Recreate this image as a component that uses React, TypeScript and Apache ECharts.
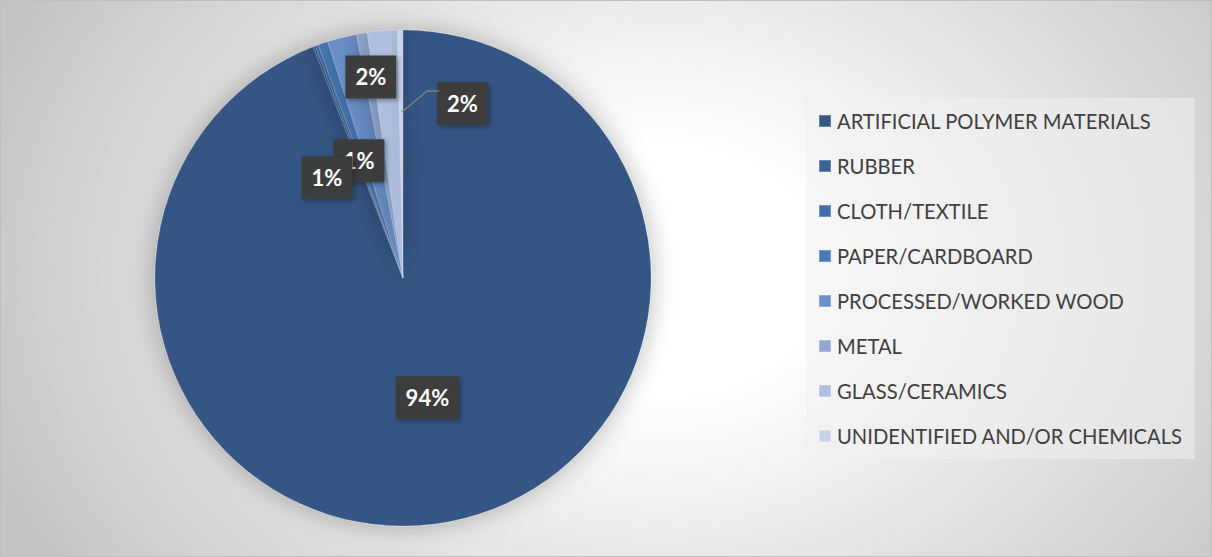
import React, { useEffect, useRef } from "react";
import * as echarts from "echarts";

const categories = [
  "ARTIFICIAL POLYMER MATERIALS",
  "RUBBER",
  "CLOTH/TEXTILE",
  "PAPER/CARDBOARD",
  "PROCESSED/WORKED WOOD",
  "METAL",
  "GLASS/CERAMICS",
  "UNIDENTIFIED AND/OR CHEMICALS",
];
const values = [94.1, 0.15, 0.2, 0.65, 1.9, 0.7, 1.95, 0.35];
const colors = ["#345785", "#3a6296", "#416ea8", "#4a7bba", "#6a8fc7", "#93a8d2", "#adbedf", "#c8d2e8"];
const showLabel = [true, false, false, true, true, true, true, false];
// label nudges (dx, dy) from the default inside position, as Excel's best-fit placed them
const labelShift: [number, number][] = [
  [1, -5], [0, 0], [0, 0], [-3, 3], [-1, -78], [-55, 25], [70, -48], [0, 0],
];

export default function App() {
  const ref = useRef<HTMLDivElement>(null);
  useEffect(() => {
    const chart = echarts.init(ref.current!, null, { renderer: "svg" });
    chart.setOption({
      animation: false,
      backgroundColor: "transparent",
      legend: {
        orient: "vertical",
        left: 805,
        top: 97,
        padding: [13, 12, 13, 12],
        backgroundColor: "rgba(240,240,240,0.55)",
        icon: "rect",
        itemWidth: 12,
        itemHeight: 12,
        itemGap: 25,
        selectedMode: false,
        textStyle: { fontFamily: "Lato", fontSize: 20.2, color: "#404040", padding: [0, 0, 0, 1] },
        data: categories,
      },
      graphic: [
        {
          type: "polyline",
          shape: { points: [[401, 111], [426, 90], [438, 90]] },
          style: { stroke: "#7f7f7f", lineWidth: 1.5, fill: null },
          z: 10,
        },
      ],
      series: [
        {
          type: "pie",
          center: [402, 277],
          radius: [0, 248],
          startAngle: 90,
          clockwise: true,
          avoidLabelOverlap: false,
          itemStyle: {
            borderColor: "rgba(255,255,255,0.25)",
            borderWidth: 0.5,
            shadowBlur: 26,
            shadowColor: "rgba(0,0,0,0.28)",
          },
          label: {
            position: "inside",
            formatter: (p: any) => Math.round(p.percent) + "%",
            fontFamily: "Lato",
            fontWeight: "bold",
            fontSize: 22,
            color: "#ffffff",
            backgroundColor: "#3e3e3e",
            padding: [11, 10, 10, 10],
            shadowBlur: 5,
            shadowColor: "rgba(0,0,0,0.35)",
            shadowOffsetX: 2,
            shadowOffsetY: 2,
          },
          labelLayout: (p: any) => ({ dx: labelShift[p.dataIndex][0], dy: labelShift[p.dataIndex][1] }),
          labelLine: { show: false },
          emphasis: { disabled: true },
          data: categories.map((name, i) => ({
            name,
            value: values[i],
            itemStyle: { color: colors[i] },
            label: { show: showLabel[i] },
          })),
        },
      ],
    });
    return () => chart.dispose();
  }, []);
  return (
    <div
      style={{
        position: "absolute",
        left: 0,
        top: 0,
        width: 1212,
        height: 557,
        boxSizing: "border-box",
        border: "1px solid #bfbfbf",
        background: "radial-gradient(720px 560px at 660px 270px, #ffffff 0%, #ffffff 22%, #c4c4c4 100%)",
      }}
    >
      <div ref={ref} style={{ width: 1210, height: 555 }} />
    </div>
  );
}
